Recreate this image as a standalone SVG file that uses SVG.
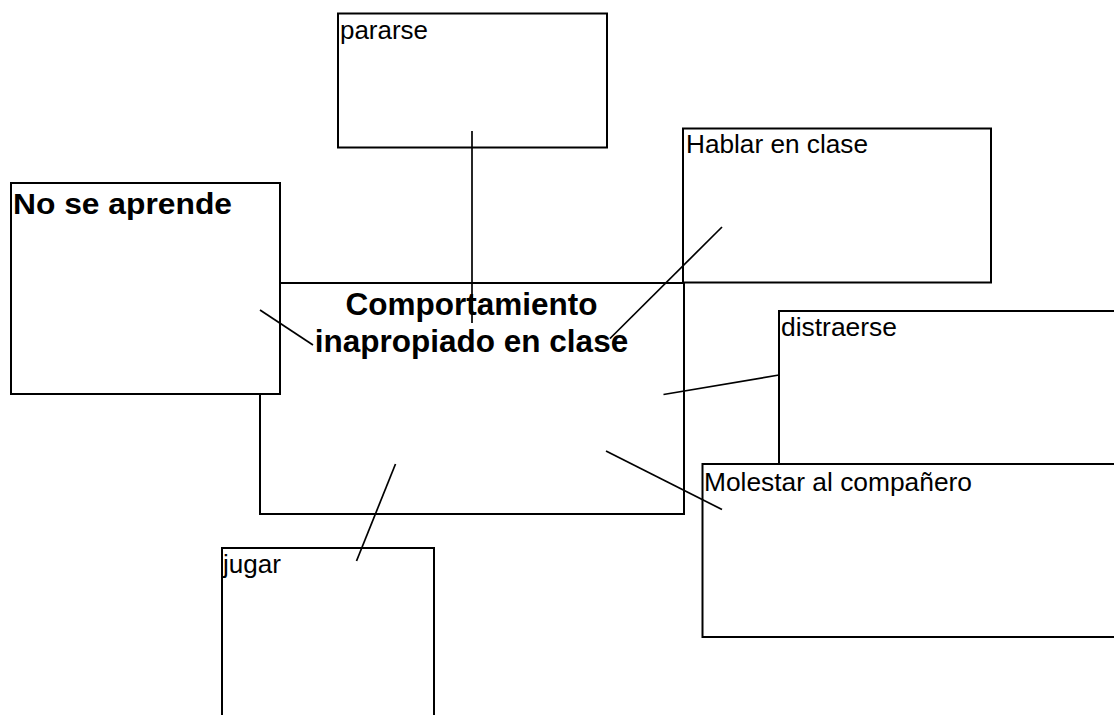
<svg xmlns="http://www.w3.org/2000/svg" width="1114" height="715" viewBox="0 0 1114 715">
<style>
.box{fill:#fff;stroke:#000;stroke-width:2}
.lbl{font-family:"Liberation Sans",Arial,sans-serif;font-size:25px;fill:#000}
.big{font-family:"Liberation Sans",Arial,sans-serif;font-weight:bold;fill:#000}
.conn line{stroke:#000;stroke-width:1.7}
</style>
<rect width="1114" height="715" fill="#fff"/>
<g id="node-comportamiento">
<rect class="box" x="260" y="283" width="424" height="231"/>
</g>
<g id="node-pararse">
<rect class="box" x="338" y="13.5" width="269" height="134"/>
<text class="lbl" x="340" y="39" textLength="88" lengthAdjust="spacingAndGlyphs">pararse</text>
</g>
<g id="node-no-se-aprende">
<rect class="box" x="11" y="183" width="269" height="211"/>
<text class="big" x="13" y="214" font-size="30" textLength="219" lengthAdjust="spacingAndGlyphs">No se aprende</text>
</g>
<g id="node-hablar">
<rect class="box" x="683" y="128.5" width="308" height="154"/>
<text class="lbl" x="686" y="153" textLength="182" lengthAdjust="spacingAndGlyphs">Hablar en clase</text>
</g>
<g id="node-distraerse">
<rect class="box" x="779" y="311" width="360" height="200"/>
<text class="lbl" x="781" y="336" textLength="116" lengthAdjust="spacingAndGlyphs">distraerse</text>
</g>
<g id="node-molestar">
<rect class="box" x="702.5" y="464" width="440" height="173"/>
<text class="lbl" x="704" y="490.5" textLength="268" lengthAdjust="spacingAndGlyphs">Molestar al compañero</text>
</g>
<g id="node-jugar">
<rect class="box" x="222" y="548" width="212" height="200"/>
<text class="lbl" x="223" y="573" textLength="58" lengthAdjust="spacingAndGlyphs">jugar</text>
</g>
<g id="label-comportamiento">
<text class="big" font-size="31.5" text-anchor="middle" x="471.5" y="315">Comportamiento</text>
<text class="big" font-size="31.5" text-anchor="middle" x="471.5" y="352">inapropiado en clase</text>
</g>
<g class="conn" id="connectors">
<line x1="472" y1="131" x2="472" y2="323"/>
<line x1="722" y1="227" x2="610" y2="338.5"/>
<line x1="260" y1="310" x2="313" y2="345"/>
<line x1="663.5" y1="394.5" x2="779" y2="375"/>
<line x1="606" y1="451" x2="722" y2="509.5"/>
<line x1="395.5" y1="464" x2="356.5" y2="561"/>
</g>
</svg>
